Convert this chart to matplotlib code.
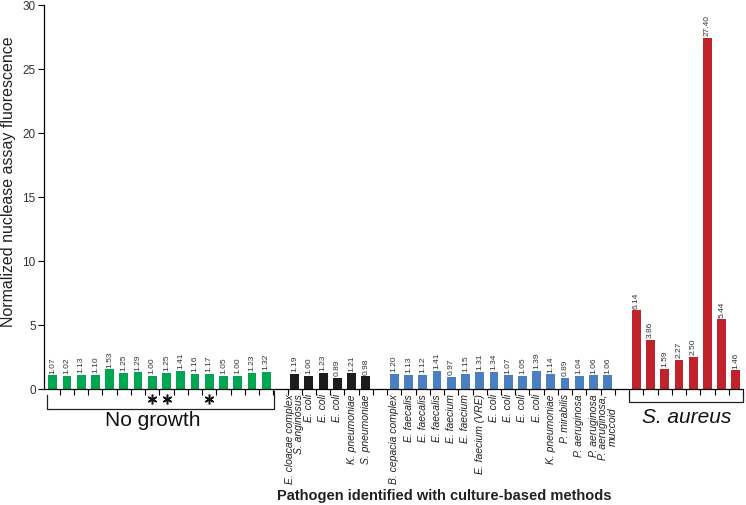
import numpy as np
import matplotlib
matplotlib.use('Agg')
import matplotlib.pyplot as plt
import matplotlib.transforms as mtransforms

plt.rcParams['font.family'] = ['Liberation Sans', 'DejaVu Sans']

# bar values per group
green_vals = [1.07, 1.02, 1.13, 1.10, 1.53, 1.25, 1.29, 1.00, 1.25, 1.41, 1.16, 1.17, 1.05, 1.00, 1.23, 1.32]
black_vals = [1.19, 1.00, 1.23, 0.89, 1.21, 0.98]
blue_vals = [1.20, 1.13, 1.12, 1.41, 0.97, 1.15, 1.31, 1.34, 1.07, 1.05, 1.39, 1.14, 0.89, 1.04, 1.06, 1.06]
red_vals = [6.14, 3.86, 1.59, 2.27, 2.50, 27.40, 5.44, 1.46]

black_labels = ['E. cloacae complex\nS. anginosus', 'E. coli', 'E. coli', 'E. coli',
                'K. pneumoniae', 'S. pneumoniae']
blue_labels = ['B. cepacia complex', 'E. faecalis', 'E. faecalis', 'E. faecalis',
               'E. faecium', 'E. faecium', 'E. faecium (VRE)', 'E. coli', 'E. coli',
               'E. coli', 'E. coli', 'K. pneumoniae', 'P. mirabilis', 'P. aeruginosa',
               'P. aeruginosa', 'P. aeruginosa,\nmuccoid']
star_idx = [7, 8, 11]   # no-growth samples marked with *

yticks = [0, 5, 10, 15, 20, 25, 30]

# slot positions: groups separated by one empty slot
x_green = np.arange(len(green_vals))
x_black = x_green[-1] + 2 + np.arange(len(black_vals))
x_blue = x_black[-1] + 2 + np.arange(len(blue_vals))
x_red = x_blue[-1] + 2 + np.arange(len(red_vals))
n_slots = x_red[-1] + 1

fig = plt.figure(figsize=(7.46, 5.06), dpi=100)
ax = fig.add_axes([44 / 746, 1 - 390 / 506, 699 / 746, 384.3 / 506])

w = 0.62
groups = [(x_green, green_vals, '#00a651'),
          (x_black, black_vals, '#1c1c1c'),
          (x_blue, blue_vals, '#4a7fc1'),
          (x_red, red_vals, '#c1232c')]
for xs, vals, col in groups:
    ax.bar(xs, vals, width=w, color=col, zorder=2)
    for x, v in zip(xs, vals):
        ax.annotate('%.2f' % v, (x, v), xytext=(0, 2), textcoords='offset points',
                    rotation=90, ha='center', va='bottom', fontsize=6, color='#333333')

ax.set_xlim(-0.61, n_slots - 0.5)
ax.set_ylim(0, 30)
ax.set_yticks(yticks)
ax.tick_params(axis='y', labelsize=8.5, labelcolor='#333333', length=4, width=0.8, pad=2)

# category labels on bar centres, tick marks on slot boundaries
ax.set_xticks(np.concatenate([x_black, x_blue]))
ax.set_xticklabels(black_labels + blue_labels, rotation=90, fontsize=7.5,
                   style='italic', color='#222222', va='top', ha='center',
                   linespacing=0.95)
ax.tick_params(axis='x', which='major', length=0, pad=3)
ax.set_xticks(np.arange(n_slots) + 0.5, minor=True)
ax.tick_params(axis='x', which='minor', length=4, width=0.8, direction='out')
for lab in ax.get_xticklabels():
    if '\n' in lab.get_text():
        lab.set_multialignment('right' if 'cloacae' in lab.get_text() else 'center')

for s in ['top', 'right']:
    ax.spines[s].set_visible(False)
for s in ['left', 'bottom']:
    ax.spines[s].set_linewidth(0.9)

fig.text(0.011, 1 - 182 / 506, 'Normalized nuclease assay fluorescence', rotation=90,
         ha='center', va='center', fontsize=11.5, color='#222222')
fig.text(444 / 746, 1 - 496 / 506, 'Pathogen identified with culture-based methods',
         ha='center', va='center', fontsize=10.5, fontweight='bold', color='#222222')

# brackets under the no-growth and S. aureus groups
trans = mtransforms.blended_transform_factory(ax.transData, ax.transAxes)
ax.plot([-0.4, -0.4, 15.56, 15.56], [-0.015, -0.052, -0.052, -0.005],
        color='#222222', lw=0.9, transform=trans, clip_on=False)
ax.plot([x_red[0] - 0.5, x_red[0] - 0.5, x_red[-1] + 0.5, x_red[-1] + 0.5],
        [-0.010, -0.034, -0.034, -0.010],
        color='#222222', lw=0.9, transform=trans, clip_on=False)
ax.text(7.05, -0.080, 'No growth', transform=trans, ha='center', va='center',
        fontsize=15, color='#111111')
ax.text(44.56, -0.072, 'S. aureus', transform=trans, ha='center', va='center',
        fontsize=15, style='italic', color='#111111')
# asterisks as markers so they sit between the ticks and the bracket
ax.plot(x_green[star_idx], [-0.027] * len(star_idx), linestyle='none',
        marker=(6, 2, 0), markersize=7, markeredgewidth=1.1, color='#111111',
        transform=trans, clip_on=False)

fig.savefig('out.png', dpi=100)
